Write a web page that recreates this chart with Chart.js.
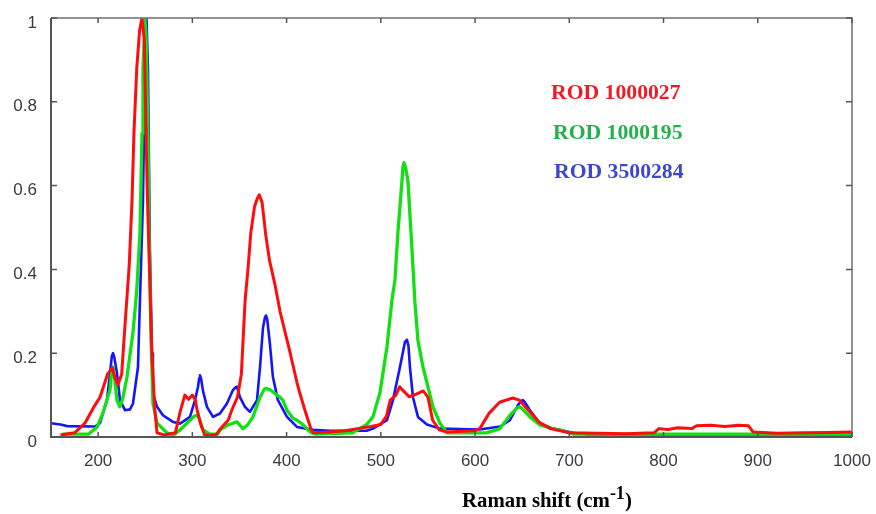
<!DOCTYPE html>
<html>
<head>
<meta charset="utf-8">
<script src="https://cdn.jsdelivr.net/npm/chart.js@4.4.1/dist/chart.umd.min.js"></script>
<style>
  html, body { margin: 0; padding: 0; background: #fff; }
  #wrap { position: relative; width: 876px; height: 514px; overflow: hidden; }
  canvas { position: absolute; left: 0; top: 0; }
  .lab { position: absolute; white-space: nowrap; font-family: "Liberation Serif", "Times New Roman", serif; font-weight: bold; line-height: 1; }
  .lab sup { font-size: 18px; position: relative; top: -8px; vertical-align: baseline; line-height: 0; }
</style>
</head>
<body>
<div id="wrap">
  <canvas id="c" width="876" height="514"></canvas>
  <div class="lab" id="l1" style="left:551px; top:82px; font-size:21.7px; color:#ee1c24;">ROD 1000027</div>
  <div class="lab" id="l2" style="left:553px; top:122px; font-size:21.7px; color:#22b14c;">ROD 1000195</div>
  <div class="lab" id="l3" style="left:554px; top:161px; font-size:21.7px; color:#3f48cc;">ROD 3500284</div>
  <div class="lab" id="xt" style="left:462px; top:490px; font-size:20.8px; color:#000;">Raman shift (cm<sup>-1</sup>)</div>
</div>
<script>
// ---- Data (Raman shift in cm-1, normalized intensity) ----
const seriesNames = ["ROD 1000027", "ROD 1000195", "ROD 3500284"];

const redX = [160,175,186,195,202,210,215,218,221,225,228,233,236,238,241,244,246.5,249,252,254,257,260,262.5,270,282,287,292,296,300,303,305,309,313,325,330,338,342,348,352,356,359,362,366,369,371,374,378,382,388,393,403,411,414,420,425,428,445,462,475,490,500,506,510,516,520,524,530,535,540,545,550,555,562,570,600,605,615,626,640,647,658,668,680,700,760,790,795,805,815,830,835,850,865,880,890,895,920,950,975,1000];
const redY = [0.005,0.01,0.033,0.07,0.095,0.15,0.165,0.14,0.125,0.15,0.25,0.41,0.566,0.725,0.88,0.97,1.0,0.95,0.6,0.44,0.2,0.07,0.01,0.005,0.01,0.06,0.1,0.09,0.1,0.09,0.065,0.03,0.005,0.005,0.02,0.04,0.065,0.096,0.15,0.327,0.4,0.487,0.55,0.57,0.578,0.56,0.48,0.42,0.36,0.3,0.208,0.13,0.105,0.06,0.025,0.01,0.012,0.015,0.02,0.025,0.03,0.05,0.088,0.1,0.12,0.11,0.096,0.1,0.105,0.11,0.095,0.04,0.017,0.012,0.015,0.02,0.057,0.083,0.093,0.088,0.06,0.035,0.02,0.01,0.008,0.01,0.02,0.018,0.022,0.02,0.027,0.028,0.025,0.028,0.027,0.012,0.009,0.01,0.011,0.012];

const greenX = [162,190,199,205,212.6,214.5,215.8,217.5,220,223,226,230.6,237,241,244.4,246.6,247.6,249.7,251,253,254,256,258.2,262.5,273,280,287,297.5,302,304.9,307,311.3,318.7,327,329.3,337,343,347.3,353.7,359,364.3,371.8,376,378,383,389.8,393,396,400.4,406.8,411,417,424.8,430,470,485,491.6,499,506.5,511.8,515,518.2,522.4,523.5,524.5,526.6,528.8,533,536.2,539.4,544.7,550,555.3,562.7,570.2,612,626.4,637,645,647.6,650,658.2,668.8,682.6,693,705,1000];
const greenY = [0.007,0.007,0.024,0.057,0.112,0.16,0.167,0.14,0.088,0.072,0.09,0.143,0.25,0.35,0.487,0.725,0.88,1.0,0.95,0.7,0.5,0.25,0.08,0.033,0.01,0.005,0.017,0.04,0.05,0.052,0.045,0.017,0.007,0.007,0.017,0.028,0.033,0.036,0.02,0.03,0.048,0.095,0.113,0.116,0.112,0.1,0.095,0.088,0.064,0.045,0.04,0.03,0.012,0.007,0.01,0.03,0.048,0.105,0.215,0.327,0.375,0.49,0.61,0.645,0.655,0.64,0.61,0.45,0.32,0.23,0.167,0.12,0.072,0.033,0.01,0.01,0.02,0.052,0.07,0.072,0.068,0.048,0.029,0.02,0.015,0.007,0.007];

const blueX = [150,160,167,196.7,202,209.4,212.6,214.5,215.8,217.2,220,223.2,228.5,233.8,237,242.3,244.4,247.6,249.7,251.3,252.9,255,257.2,258.2,262.5,268.8,279.4,286.9,297.5,302.8,306,307.2,308.1,309.2,311.3,315.5,321.9,329.3,336.7,343.1,345.5,347.3,350.5,355.8,361.1,368.6,371.8,374.9,377,378.1,379.5,382.4,385.5,390.8,400.4,411,428,446,485,491.6,506.5,512.9,520.3,525.6,527.7,529.3,530.9,534.1,539.4,548.9,562.7,605,626.4,637,645.5,649,650.8,652.5,658.2,668.8,682.6,703.9,720,1000];
const blueY = [0.033,0.03,0.026,0.025,0.033,0.088,0.152,0.192,0.2,0.19,0.152,0.088,0.064,0.066,0.08,0.167,0.327,0.566,0.88,1.0,0.88,0.44,0.2,0.105,0.072,0.052,0.036,0.032,0.048,0.088,0.12,0.14,0.147,0.14,0.11,0.072,0.048,0.056,0.08,0.112,0.118,0.12,0.095,0.072,0.06,0.088,0.167,0.26,0.285,0.29,0.28,0.22,0.143,0.088,0.048,0.024,0.017,0.015,0.015,0.02,0.04,0.088,0.167,0.227,0.232,0.218,0.167,0.095,0.048,0.03,0.02,0.018,0.025,0.04,0.076,0.086,0.088,0.084,0.064,0.033,0.02,0.01,0.006,0.006];

const xTickStep = 100;
const yTickStep = 0.2;

function pts(xs, ys) { return xs.map((x, i) => ({ x: x, y: ys[i] })); }

// ---- Frame + inward ticks plugin ----
const framePlugin = {
  id: 'frame',
  afterDatasetsDraw(chart) {
    const { ctx, chartArea: a, scales } = chart;
    ctx.save();
    ctx.strokeStyle = '#707070';
    ctx.lineWidth = 1.5;
    ctx.beginPath();
    ctx.moveTo(a.left, a.top); ctx.lineTo(a.right, a.top); ctx.lineTo(a.right, a.bottom);
    ctx.stroke();
    ctx.strokeStyle = '#555';
    ctx.lineWidth = 2;
    ctx.beginPath();
    ctx.moveTo(a.left, a.top); ctx.lineTo(a.left, a.bottom); ctx.lineTo(a.right, a.bottom);
    ctx.stroke();
    ctx.lineWidth = 1.5;
    ctx.beginPath();
    scales.x.ticks.forEach(t => {
      const px = scales.x.getPixelForValue(t.value);
      ctx.moveTo(px, a.top); ctx.lineTo(px, a.top + 5);
      ctx.moveTo(px, a.bottom); ctx.lineTo(px, a.bottom - 5);
    });
    scales.y.ticks.forEach(t => {
      const py = scales.y.getPixelForValue(t.value);
      ctx.moveTo(a.left, py); ctx.lineTo(a.left + 6, py);
      ctx.moveTo(a.right, py); ctx.lineTo(a.right - 6, py);
    });
    ctx.stroke();
    ctx.restore();
  }
};

const ds = (label, xs, ys, color, w) => ({
  label: label, data: pts(xs, ys), borderColor: color, backgroundColor: color,
  borderWidth: w, pointRadius: 0, tension: 0, fill: false, borderJoinStyle: 'round'
});

const tickFont = { family: 'Liberation Sans, Arial, sans-serif', size: 17 };

new Chart(document.getElementById('c'), {
  type: 'line',
  data: {
    datasets: [
      ds(seriesNames[0], redX, redY, '#ff0d0d', 3),
      ds(seriesNames[1], greenX, greenY, '#12e012', 3.3),
      ds(seriesNames[2], blueX, blueY, '#1414ff', 2.6)
    ]
  },
  options: {
    responsive: false,
    animation: false,
    devicePixelRatio: 1,
    layout: { padding: { top: 18, right: 24, left: 0, bottom: 0 } },
    plugins: { legend: { display: false }, tooltip: { enabled: false } },
    scales: {
      x: {
        type: 'linear', min: 150, max: 1000,
        afterFit(s) { s.height = 77; s.paddingLeft = 0; s.paddingRight = 0; },
        grid: { display: false, drawTicks: false },
        border: { display: false },
        ticks: { stepSize: xTickStep, includeBounds: false, padding: 14, color: '#3a3a44', font: tickFont,
                 callback: v => String(v) }
      },
      y: {
        type: 'linear', min: 0, max: 1,
        afterFit(s) { s.width = 51; s.paddingTop = 0; s.paddingBottom = 0; },
        grid: { display: false, drawTicks: false },
        border: { display: false },
        ticks: { stepSize: yTickStep, padding: 14, labelOffset: 5, color: '#3a3a44', font: tickFont,
                 callback: v => String(Math.round(v * 10) / 10) }
      }
    }
  },
  plugins: [framePlugin]
});
</script>
</body>
</html>
